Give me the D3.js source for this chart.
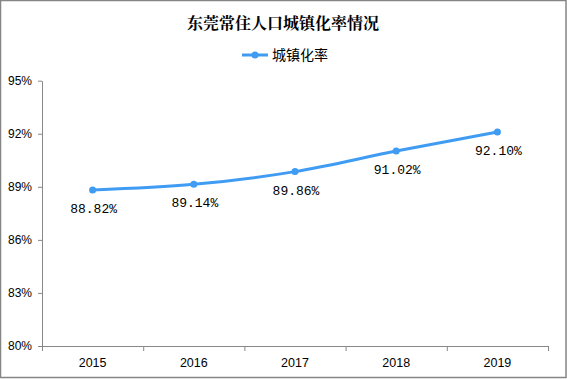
<!DOCTYPE html>
<html><head><meta charset="utf-8">
<script src="https://cdn.jsdelivr.net/npm/d3@7"></script>
<style>body{margin:0;background:#fff}svg{display:block}</style>
</head><body>
<svg id="c" width="567" height="379"></svg>
<script>
const title = "东莞常住人口城镇化率情况";
const seriesName = "城镇化率";
const years = ["2015","2016","2017","2018","2019"];
const rates = [88.82, 89.14, 89.86, 91.02, 92.10];
const yTicks = [80, 83, 86, 89, 92, 95];

(function(){
const svg = d3.select("#c");
const color = "#3f9cf2";
// frame
svg.append("rect").attr("x",0.5).attr("y",0.5).attr("width",565.5).attr("height",377)
  .attr("fill","#fff").attr("stroke","#858585").attr("stroke-width",1.5);

const mL = 42, mR = 548, mT = 80.7, mB = 346;
const x = d3.scaleBand().domain(years).range([mL, mR]);
const y = d3.scaleLinear().domain([80, 95]).range([mB, mT]);

// title
svg.append("text").attr("x", 283).attr("y", 29).attr("text-anchor","middle")
  .attr("font-family","'Noto Serif CJK SC','Noto Sans CJK SC',serif").attr("font-weight","bold")
  .attr("font-size",16).attr("fill","#000").text(title);

// legend
const lg = svg.append("g");
lg.append("line").attr("x1",242).attr("x2",268).attr("y1",55).attr("y2",55)
  .attr("stroke",color).attr("stroke-width",3);
lg.append("circle").attr("cx",255).attr("cy",55).attr("r",3.5).attr("fill",color);
lg.append("text").attr("x",272).attr("y",60).attr("font-family","'Noto Sans CJK SC',sans-serif")
  .attr("font-size",14).attr("fill","#000").text(seriesName);

// y axis
const yAxis = svg.append("g").attr("transform",`translate(${mL},0)`)
  .call(d3.axisLeft(y).tickValues(yTicks).tickFormat(d => d + "%").tickSize(4).tickSizeOuter(0));
yAxis.select(".domain").attr("stroke","#888");
yAxis.selectAll(".tick line").attr("stroke","#888");
yAxis.selectAll(".tick text").attr("font-family","'Liberation Sans',Arial,sans-serif")
  .attr("font-size",12).attr("fill","#000").attr("x",-10);

// x axis
const xAxis = svg.append("g").attr("transform",`translate(0,${mB})`)
  .call(d3.axisBottom(x).tickSize(0).tickSizeOuter(0));
xAxis.select(".domain").attr("stroke","#888");
xAxis.selectAll(".tick text").attr("font-family","'Liberation Sans',Arial,sans-serif")
  .attr("font-size",12.5).attr("fill","#000").attr("dy",0).attr("y",21);
// band boundary ticks
const bounds = years.map(d => x(d)).concat([x(years[years.length-1]) + x.bandwidth()]);
svg.append("g").selectAll("line").data(bounds).join("line")
  .attr("x1",d=>d+0.5).attr("x2",d=>d+0.5).attr("y1",mB).attr("y2",mB+5)
  .attr("stroke","#888");

const cx = d => x(d) + x.bandwidth()/2;
const pts = years.map((d,i) => [cx(d), y(rates[i])]);

svg.append("path").attr("d", d3.line().curve(d3.curveMonotoneX)(pts))
  .attr("fill","none").attr("stroke",color).attr("stroke-width",3);
svg.append("g").selectAll("circle").data(pts).join("circle")
  .attr("cx",d=>d[0]).attr("cy",d=>d[1]).attr("r",3.5).attr("fill",color);

svg.append("g").selectAll("text").data(years).join("text")
  .attr("x",(d)=>cx(d)+1).attr("y",(d,i)=>y(rates[i])+23)
  .attr("text-anchor","middle").attr("font-family","'Liberation Mono',monospace")
  .attr("font-size",13).attr("fill","#000").text((d,i)=>rates[i].toFixed(2)+"%");
})();
</script>
</body></html>
